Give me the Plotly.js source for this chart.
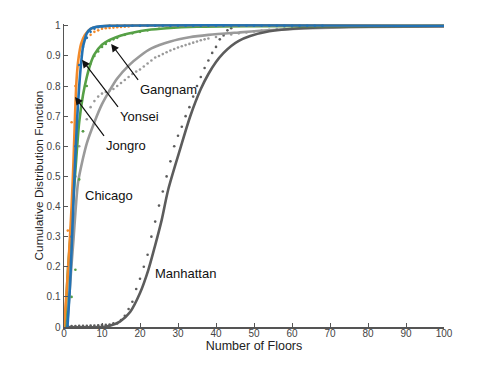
<!DOCTYPE html>
<html>
<head>
<meta charset="utf-8">
<script src="https://cdn.plot.ly/plotly-3.0.1.min.js"></script>
<style>
  body { margin: 0; background: #fff; }
  #graph { width: 491px; height: 368px; }
</style>
</head>
<body>
<div id="graph"></div>
<script>
// fitted curves (solid lines)
const manhattanFitX = [0, 10, 12, 14.7, 17.4, 20, 22.2, 23.9, 25.7, 27.4, 30.5, 33.2, 36, 38, 40, 42, 44, 46, 49, 54, 62, 75, 100];
const manhattanFitY = [0, 0, 0.004, 0.018, 0.05, 0.113, 0.19, 0.267, 0.355, 0.455, 0.588, 0.699, 0.79, 0.84, 0.88, 0.91, 0.933, 0.95, 0.966, 0.982, 0.992, 0.997, 0.999];

const chicagoFitX = [0.8, 1.5, 2, 2.5, 3, 3.7, 5, 6, 8, 10, 12, 14, 17, 20, 23, 28, 33, 38, 46, 55, 65, 80, 100];
const chicagoFitY = [0, 0.12, 0.21, 0.29, 0.38, 0.48, 0.56, 0.61, 0.68, 0.74, 0.785, 0.825, 0.868, 0.9, 0.925, 0.948, 0.962, 0.97, 0.978, 0.986, 0.992, 0.996, 0.998];

const gangnamFitX = [0.3, 1, 2, 3, 4, 5, 6, 7, 8, 10, 12, 15, 18, 22, 27, 35, 50, 100];
const gangnamFitY = [0, 0.18, 0.35, 0.52, 0.68, 0.77, 0.83, 0.875, 0.905, 0.937, 0.953, 0.968, 0.977, 0.986, 0.992, 0.997, 0.999, 1];

const jongroFitX = [0, 0.7, 1.4, 2, 2.5, 2.9, 3.3, 3.8, 4.5, 5.5, 7, 9, 12, 100];
const jongroFitY = [0, 0.12, 0.26, 0.4, 0.55, 0.7, 0.82, 0.89, 0.94, 0.97, 0.99, 0.997, 1, 1];

const yonseiFitX = [0.9, 1.5, 2, 2.5, 3, 3.5, 4, 4.5, 5, 5.5, 6, 7, 8.5, 12, 100];
const yonseiFitY = [0, 0.12, 0.26, 0.42, 0.57, 0.7, 0.8, 0.875, 0.93, 0.955, 0.975, 0.99, 0.997, 1, 1];

// empirical points (dots)
const manhattanPtX = [0, 1, 2, 3, 4, 5, 6, 7, 8, 9, 10, 11, 12, 13, 14, 15, 16, 17, 18, 19, 20, 21, 22, 23, 24, 25, 26, 27, 28, 29, 30, 31, 32, 33, 34, 35, 36, 37, 38, 39, 40, 41, 42, 43, 44];
const manhattanPtY = [0.003, 0.003, 0.003, 0.003, 0.004, 0.004, 0.004, 0.005, 0.005, 0.006, 0.007, 0.007, 0.008, 0.012, 0.012, 0.023, 0.037, 0.06, 0.084, 0.126, 0.16, 0.2, 0.24, 0.3, 0.35, 0.403, 0.45, 0.5, 0.55, 0.6, 0.635, 0.665, 0.7, 0.73, 0.765, 0.8, 0.83, 0.86, 0.885, 0.91, 0.93, 0.955, 0.97, 0.985, 0.992];

const chicagoPtX = [1, 2, 3, 4, 5, 6, 7, 8, 9, 10, 11, 12, 13, 14, 15, 16, 17, 18, 19, 20, 21, 22, 23, 24, 25, 26, 27, 28, 29, 30, 31, 32, 33, 34, 35, 36, 37, 38, 40, 42, 44, 46, 48, 50, 52, 54, 56, 58, 60, 62, 64];
const chicagoPtY = [0.2, 0.35, 0.5, 0.6, 0.65, 0.69, 0.73, 0.75, 0.765, 0.775, 0.78, 0.785, 0.79, 0.8, 0.81, 0.82, 0.83, 0.84, 0.848, 0.855, 0.865, 0.875, 0.885, 0.895, 0.9, 0.906, 0.912, 0.918, 0.923, 0.928, 0.932, 0.936, 0.94, 0.944, 0.948, 0.952, 0.955, 0.958, 0.963, 0.967, 0.971, 0.975, 0.978, 0.981, 0.984, 0.987, 0.989, 0.991, 0.993, 0.995, 0.996];

const gangnamPtX = [1, 2, 3, 4, 5, 6, 7, 8, 9, 10, 11, 12, 13, 14, 16, 18, 20, 22, 25, 28, 32];
const gangnamPtY = [0.05, 0.1, 0.19, 0.49, 0.65, 0.8, 0.875, 0.9, 0.915, 0.93, 0.94, 0.95, 0.955, 0.96, 0.97, 0.975, 0.98, 0.985, 0.99, 0.994, 0.997];

const jongroPtX = [0, 1, 2, 3, 4, 5, 6, 7, 8, 9, 10, 11, 12, 13, 14, 15, 16, 17, 18];
const jongroPtY = [0.05, 0.32, 0.68, 0.8, 0.9, 0.94, 0.96, 0.97, 0.98, 0.985, 0.99, 0.992, 0.993, 0.994, 0.995, 0.996, 0.997, 0.998, 1];

const yonseiPtX = [1, 2, 3, 4, 5, 6, 7, 8, 9, 10, 12, 14, 16, 18, 20, 22, 24, 26, 28, 30, 32, 34, 36, 38, 40, 42, 44, 46, 48, 50, 52, 54, 56, 58, 60, 62, 64, 66, 68];
const yonseiPtY = [0.02, 0.3, 0.6, 0.87, 0.93, 0.96, 0.98, 0.99, 0.995, 0.998, 1, 1, 1, 1, 1, 1, 1, 1, 1, 1, 1, 1, 1, 1, 1, 1, 1, 1, 1, 1, 1, 1, 1, 1, 1, 1, 1, 1, 1];

const tickX = [0, 10, 20, 30, 40, 50, 60, 70, 80, 90, 100];
const tickY = [0, 0.1, 0.2, 0.3, 0.4, 0.5, 0.6, 0.7, 0.8, 0.9, 1];

const colChicago = '#9a9a9a';
const colManhattan = '#5c5c5c';
const colGangnam = '#56a046';
const colJongro = '#f28a2a';
const colYonsei = '#2272b4';

const fitLine = (x, y, color) => ({
  x: x, y: y, type: 'scatter', mode: 'lines',
  line: { color: color, width: 2.6, shape: 'spline', smoothing: 0.8 },
  hoverinfo: 'skip'
});

const dots = (x, y, color) => ({
  x: x, y: y, type: 'scatter', mode: 'markers',
  marker: { color: color, size: 2.6 },
  hoverinfo: 'skip'
});

var data = [
  dots(chicagoPtX, chicagoPtY, colChicago),
  dots(manhattanPtX, manhattanPtY, colManhattan),
  fitLine(chicagoFitX, chicagoFitY, colChicago),
  fitLine(manhattanFitX, manhattanFitY, colManhattan),
  dots(gangnamPtX, gangnamPtY, colGangnam),
  fitLine(gangnamFitX, gangnamFitY, colGangnam),
  dots(jongroPtX, jongroPtY, colJongro),
  fitLine(jongroFitX, jongroFitY, colJongro),
  fitLine(yonseiFitX, yonseiFitY, colYonsei),
  dots(yonseiPtX, yonseiPtY, colYonsei)
];

const arrowNote = (text, x, y, ax, ay) => ({
  text: text, x: x, y: y, xref: 'x', yref: 'y',
  ax: ax, ay: ay, showarrow: true,
  arrowhead: 2, arrowsize: 1.3, arrowwidth: 1.2, arrowcolor: '#111',
  xanchor: 'left', yanchor: 'top',
  font: { size: 13, color: '#111' }
});

const plainNote = (text, x, y) => ({
  text: text, x: x, y: y, xref: 'x', yref: 'y',
  showarrow: false, xanchor: 'left', yanchor: 'middle',
  font: { size: 13, color: '#111' }
});

var layout = {
  width: 491,
  height: 368,
  margin: { l: 64, r: 47, t: 24, b: 41 },
  paper_bgcolor: '#fff',
  plot_bgcolor: '#fff',
  showlegend: false,
  font: { family: 'Liberation Sans, Arial, sans-serif', color: '#333' },
  xaxis: {
    range: [0, 100],
    tickvals: tickX,
    ticktext: tickX.map(String),
    ticks: 'inside', ticklen: 4, tickcolor: '#555', tickwidth: 1,
    showline: true, linecolor: '#555', linewidth: 1.5,
    showgrid: false, zeroline: false,
    ticklabelstandoff: -4,
    tickfont: { size: 10, color: '#444' },
    title: { text: 'Number of Floors', font: { size: 12.5, color: '#222' }, standoff: 0 }
  },
  yaxis: {
    range: [0, 1.006],
    tickvals: tickY,
    ticktext: tickY.map(String),
    ticks: 'inside', ticklen: 4, tickcolor: '#555', tickwidth: 1,
    showline: true, linecolor: '#555', linewidth: 1.5,
    showgrid: false, zeroline: false,
    ticklabelstandoff: 0,
    tickfont: { size: 10, color: '#444' },
    title: { text: 'Cumulative Distribution Function', font: { size: 11.8, color: '#222' }, standoff: 0 }
  },
  annotations: [
    arrowNote('Gangnam', 12.4, 0.94, 27, 36),
    arrowNote('Yonsei', 4.74, 0.887, 36, 47),
    arrowNote('Jongro', 2.9, 0.764, 29, 39),
    plainNote('Chicago', 5, 0.435),
    plainNote('Manhattan', 23.4, 0.179)
  ]
};

Plotly.newPlot('graph', data, layout, { displayModeBar: false, staticPlot: true });
</script>
</body>
</html>
